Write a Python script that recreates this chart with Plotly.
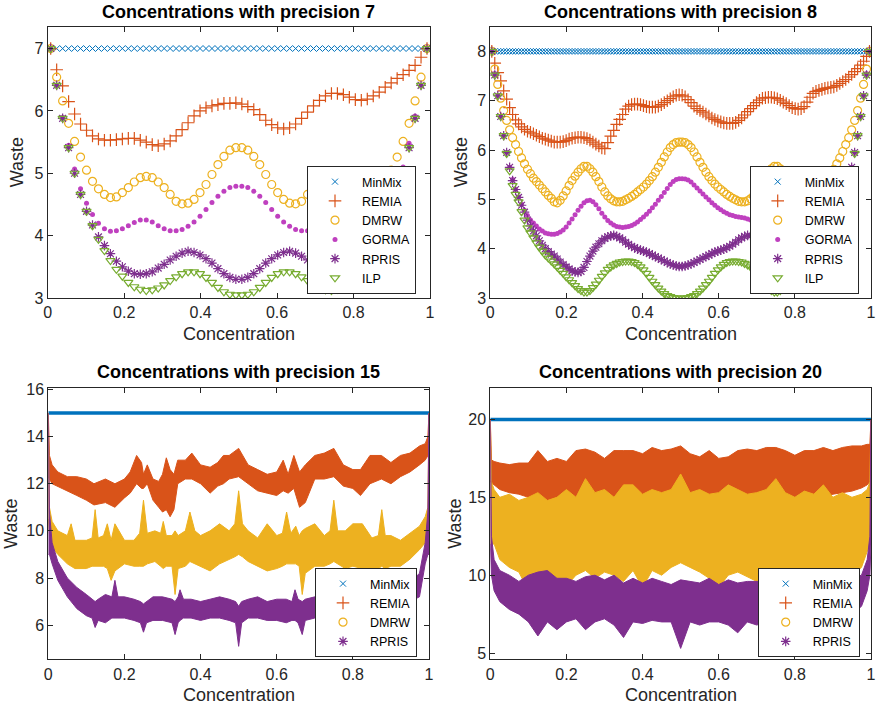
import plotly.graph_objects as go

# ---------------- data ----------------
# concentrations (odd multiples of 2^-d)
conc7 = [(2 * k + 1) / 128 for k in range(64)]
conc8 = [(2 * k + 1) / 256 for k in range(128)]

minmix7 = [7.0] * 64
remia7 = [7.00, 6.66, 6.40, 6.15, 5.95, 5.79, 5.69, 5.60, 5.55, 5.53,
          5.53, 5.54, 5.55, 5.56, 5.56, 5.53, 5.50, 5.46, 5.44, 5.47,
          5.52, 5.60, 5.70, 5.81, 5.92, 6.00, 6.05, 6.08, 6.10, 6.12,
          6.12, 6.13, 6.11, 6.07, 6.02, 5.94, 5.85, 5.78, 5.73, 5.71,
          5.73, 5.79, 5.88, 5.98, 6.08, 6.17, 6.24, 6.28, 6.28, 6.26,
          6.22, 6.18, 6.17, 6.19, 6.24, 6.30, 6.38, 6.45, 6.52, 6.58,
          6.65, 6.73, 6.86, 7.00]
dmrw7 = [7.00, 6.54, 6.16, 5.80, 5.51, 5.26, 5.05, 4.87, 4.75, 4.66,
         4.61, 4.62, 4.69, 4.77, 4.86, 4.93, 4.95, 4.93, 4.86, 4.77,
         4.66, 4.55, 4.51, 4.52, 4.58, 4.69, 4.82, 4.98, 5.14, 5.27,
         5.37, 5.41, 5.41, 5.37, 5.27, 5.14, 4.98, 4.82, 4.69, 4.58,
         4.52, 4.51, 4.55, 4.66, 4.77, 4.86, 4.93, 4.95, 4.93, 4.86,
         4.77, 4.69, 4.62, 4.61, 4.66, 4.75, 4.87, 5.05, 5.26, 5.51,
         5.80, 6.16, 6.54, 7.00]
gorma7 = [7.00, 6.41, 5.90, 5.45, 5.07, 4.75, 4.52, 4.34, 4.20, 4.11,
          4.07, 4.08, 4.11, 4.16, 4.21, 4.25, 4.25, 4.22, 4.16, 4.11,
          4.08, 4.08, 4.10, 4.15, 4.22, 4.31, 4.42, 4.53, 4.63, 4.71,
          4.77, 4.79, 4.79, 4.77, 4.71, 4.63, 4.53, 4.42, 4.31, 4.22,
          4.15, 4.10, 4.08, 4.08, 4.11, 4.16, 4.22, 4.25, 4.25, 4.21,
          4.16, 4.11, 4.08, 4.07, 4.11, 4.20, 4.34, 4.52, 4.75, 5.10,
          5.48, 5.92, 6.41, 7.00]
rpris7 = [7.00, 6.41, 5.88, 5.41, 5.00, 4.66, 4.39, 4.17, 3.98, 3.84,
          3.71, 3.59, 3.50, 3.43, 3.39, 3.38, 3.39, 3.42, 3.48, 3.54,
          3.61, 3.67, 3.72, 3.75, 3.73, 3.69, 3.63, 3.56, 3.47, 3.39,
          3.33, 3.30, 3.30, 3.33, 3.39, 3.47, 3.56, 3.63, 3.69, 3.73,
          3.75, 3.72, 3.67, 3.61, 3.54, 3.48, 3.42, 3.39, 3.38, 3.39,
          3.43, 3.50, 3.59, 3.71, 3.84, 3.98, 4.17, 4.39, 4.66, 5.00,
          5.41, 5.88, 6.41, 7.00]
ilp7 = [7.00, 6.41, 5.88, 5.41, 5.00, 4.66, 4.39, 4.16, 3.94, 3.76,
        3.60, 3.46, 3.35, 3.25, 3.18, 3.14, 3.12, 3.13, 3.16, 3.21,
        3.28, 3.34, 3.39, 3.42, 3.42, 3.39, 3.33, 3.25, 3.17, 3.10,
        3.06, 3.05, 3.05, 3.06, 3.10, 3.17, 3.25, 3.33, 3.39, 3.42,
        3.42, 3.39, 3.34, 3.28, 3.21, 3.16, 3.13, 3.12, 3.14, 3.18,
        3.25, 3.35, 3.46, 3.60, 3.76, 3.94, 4.16, 4.39, 4.66, 5.00,
        5.41, 5.88, 6.41, 7.00]

minmix8 = [8.0] * 128
remia8 = [8.00, 7.76, 7.57, 7.40, 7.20, 7.03, 6.86, 6.72, 6.61, 6.53,
          6.47, 6.42, 6.38, 6.36, 6.33, 6.30, 6.27, 6.24, 6.22, 6.20,
          6.18, 6.16, 6.16, 6.16, 6.17, 6.19, 6.22, 6.24, 6.25, 6.26,
          6.26, 6.25, 6.23, 6.20, 6.16, 6.12, 6.08, 6.04, 6.03, 6.15,
          6.28, 6.40, 6.52, 6.62, 6.72, 6.83, 6.89, 6.92, 6.93, 6.93,
          6.92, 6.90, 6.88, 6.87, 6.87, 6.87, 6.89, 6.92, 6.96, 7.00,
          7.04, 7.08, 7.11, 7.12, 7.11, 7.08, 7.02, 6.96, 6.89, 6.84,
          6.80, 6.77, 6.73, 6.69, 6.65, 6.62, 6.59, 6.57, 6.55, 6.54,
          6.54, 6.54, 6.56, 6.60, 6.65, 6.71, 6.78, 6.84, 6.90, 6.96,
          7.01, 7.05, 7.06, 7.07, 7.07, 7.06, 7.04, 7.01, 6.97, 6.94,
          6.90, 6.86, 6.84, 6.83, 6.84, 6.88, 6.97, 7.07, 7.15, 7.19,
          7.21, 7.23, 7.25, 7.26, 7.27, 7.28, 7.31, 7.35, 7.39, 7.43,
          7.48, 7.53, 7.59, 7.65, 7.72, 7.80, 7.90, 8.00]
dmrw8 = [8.00, 7.64, 7.33, 7.05, 6.80, 6.60, 6.41, 6.25, 6.11, 5.97,
         5.84, 5.72, 5.61, 5.52, 5.43, 5.36, 5.29, 5.22, 5.15, 5.08,
         5.02, 4.95, 4.93, 4.98, 5.07, 5.17, 5.28, 5.38, 5.47, 5.55,
         5.62, 5.67, 5.67, 5.62, 5.55, 5.46, 5.36, 5.25, 5.15, 5.07,
         5.01, 4.97, 4.95, 4.95, 4.96, 4.99, 5.02, 5.06, 5.10, 5.15,
         5.20, 5.25, 5.31, 5.38, 5.46, 5.55, 5.65, 5.75, 5.86, 5.96,
         6.05, 6.11, 6.15, 6.16,
         6.16, 6.15, 6.11, 6.05, 5.96, 5.86, 5.75, 5.65, 5.55, 5.46,
         5.38, 5.31, 5.25, 5.20, 5.15, 5.10, 5.06, 5.02, 4.99, 4.96,
         4.95, 4.95, 4.97, 5.01, 5.07, 5.15, 5.25, 5.36, 5.46, 5.55,
         5.62, 5.67, 5.67, 5.62, 5.55, 5.47, 5.38, 5.28, 5.17, 5.07,
         4.98, 4.93, 4.95, 5.02, 5.08, 5.15, 5.22, 5.29, 5.36, 5.43,
         5.52, 5.61, 5.72, 5.84, 5.97, 6.11, 6.25, 6.41, 6.60, 6.80,
         7.05, 7.33, 7.64, 8.00]
gorma8 = [8.00, 7.55, 7.10, 6.68, 6.28, 5.95, 5.65, 5.40, 5.20, 5.05,
          4.90, 4.78, 4.67, 4.58, 4.52, 4.46, 4.40, 4.36, 4.32, 4.30,
          4.29, 4.29, 4.31, 4.34, 4.38, 4.44, 4.52, 4.60, 4.69, 4.78,
          4.86, 4.93, 4.97, 4.98, 4.95, 4.89, 4.81, 4.72, 4.64, 4.57,
          4.52, 4.48, 4.45, 4.44, 4.43, 4.44, 4.45, 4.47, 4.50, 4.54,
          4.59, 4.64, 4.70, 4.76, 4.83, 4.90, 4.98, 5.06, 5.14, 5.22,
          5.30, 5.36, 5.40, 5.42,
          5.42, 5.41, 5.39, 5.35, 5.29, 5.23, 5.17, 5.11, 5.05, 4.99,
          4.93, 4.88, 4.83, 4.79, 4.75, 4.72, 4.69, 4.67, 4.65, 4.64,
          4.63, 4.62, 4.60, 4.58, 4.57, 4.64, 4.72, 4.81, 4.89, 4.95,
          4.98, 4.97, 4.93, 4.86, 4.78, 4.69, 4.60, 4.52, 4.44, 4.38,
          4.34, 4.31, 4.29, 4.29, 4.30, 4.32, 4.36, 4.40, 4.46, 4.52,
          4.58, 4.67, 4.78, 4.90, 5.05, 5.20, 5.40, 5.65, 5.95, 6.28,
          6.68, 7.10, 7.55, 8.00]
rpris8 = [8.00, 7.52, 7.10, 6.68, 6.29, 5.95, 5.65, 5.38, 5.20, 5.04,
          4.88, 4.74, 4.58, 4.46, 4.36, 4.26, 4.16, 4.07, 4.00, 3.94,
          3.89, 3.85, 3.79, 3.73, 3.68, 3.63, 3.59, 3.55, 3.53, 3.52,
          3.54, 3.62, 3.74, 3.85, 3.95, 4.03, 4.10, 4.16, 4.21, 4.24,
          4.26, 4.27, 4.25, 4.22, 4.18, 4.13, 4.09, 4.05, 4.02, 3.99,
          3.97, 3.95, 3.93, 3.90, 3.87, 3.84, 3.81, 3.78, 3.75, 3.72,
          3.69, 3.67, 3.65, 3.64,
          3.64, 3.65, 3.67, 3.69, 3.72, 3.75, 3.78, 3.81, 3.84, 3.87,
          3.90, 3.93, 3.95, 3.97, 3.99, 4.02, 4.05, 4.09, 4.13, 4.18,
          4.22, 4.25, 4.27, 4.26, 4.24, 4.21, 4.16, 4.10, 4.03, 3.95,
          3.85, 3.74, 3.62, 3.54, 3.52, 3.53, 3.55, 3.59, 3.63, 3.68,
          3.73, 3.79, 3.85, 3.89, 3.94, 4.00, 4.07, 4.16, 4.26, 4.36,
          4.46, 4.58, 4.74, 4.88, 5.04, 5.20, 5.38, 5.65, 5.95, 6.29,
          6.68, 7.10, 7.52, 8.00]
ilp8 = [8.00, 7.52, 7.10, 6.68, 6.29, 5.93, 5.58, 5.28, 5.10, 4.95,
        4.75, 4.58, 4.42, 4.32, 4.22, 4.12, 4.03, 3.95, 3.87, 3.81,
        3.75, 3.69, 3.63, 3.56, 3.50, 3.43, 3.37, 3.31, 3.25, 3.19,
        3.15, 3.12, 3.12, 3.15, 3.21, 3.28, 3.36, 3.44, 3.51, 3.58,
        3.63, 3.67, 3.70, 3.73, 3.74, 3.75, 3.75, 3.74, 3.72, 3.68,
        3.63, 3.57, 3.50, 3.42, 3.34, 3.27, 3.20, 3.14, 3.09, 3.05,
        3.03, 3.01, 3.00, 3.00,
        3.00, 3.00, 3.01, 3.03, 3.05, 3.09, 3.14, 3.20, 3.27, 3.34,
        3.42, 3.50, 3.57, 3.63, 3.68, 3.72, 3.74, 3.75, 3.75, 3.74,
        3.73, 3.70, 3.67, 3.63, 3.58, 3.51, 3.44, 3.36, 3.28, 3.21,
        3.15, 3.12, 3.12, 3.15, 3.19, 3.25, 3.31, 3.37, 3.43, 3.50,
        3.56, 3.63, 3.69, 3.75, 3.81, 3.87, 3.95, 4.03, 4.12, 4.22,
        4.32, 4.42, 4.58, 4.75, 4.95, 5.10, 5.28, 5.58, 5.93, 6.29,
        6.68, 7.10, 7.52, 8.00]

# precision 15: dense data read as upper / lower envelopes
minmix15_x = [0.0, 1.0]
minmix15 = [15, 15]
remia15_x = [0, 0.003, 0.01, 0.025, 0.05, 0.075, 0.1, 0.12, 0.15, 0.175,
             0.2, 0.215, 0.232, 0.245, 0.25, 0.26, 0.275, 0.29, 0.3, 0.31,
             0.32, 0.33, 0.34, 0.36, 0.377, 0.4, 0.425, 0.445, 0.46, 0.475,
             0.5, 0.525, 0.55, 0.575, 0.6, 0.617, 0.63, 0.645, 0.66, 0.675,
             0.7, 0.725, 0.75, 0.775, 0.8, 0.82, 0.845, 0.875, 0.9, 0.925,
             0.95, 0.975, 0.99, 0.997, 1.0]
remia15_hi = [15, 13.2, 12.8, 12.5, 12.3, 12.3, 12.2, 12.0, 12.2, 12.0,
              12.2, 12.5, 13.2, 12.9, 12.4, 12.8, 12.2, 12.1, 12.4, 13.1,
              12.6, 12.4, 13.0, 13.0, 13.3, 12.8, 12.7, 12.9, 13.2, 13.2,
              13.5, 12.8, 12.6, 12.4, 12.5, 13.0, 12.4, 13.2, 12.5, 12.8,
              13.2, 13.3, 13.5, 12.8, 12.6, 12.6, 13.2, 13.2, 12.9, 13.2,
              13.3, 13.6, 13.7, 14.0, 15]
remia15_lo = [12.3, 12.2, 12.0, 11.9, 11.7, 11.5, 11.3, 11.1, 11.2, 11.0,
              11.4, 11.6, 12.0, 11.8, 11.8, 12.0, 11.3, 11.0, 10.8, 10.9,
              10.6, 10.9, 12.0, 12.2, 12.2, 12.0, 11.6, 11.9, 12.0, 12.2,
              12.3, 12.0, 11.7, 11.6, 11.5, 11.7, 11.6, 11.8, 11.0, 11.2,
              12.2, 12.2, 12.3, 11.9, 11.8, 11.5, 12.0, 12.2, 12.0, 12.3,
              12.5, 12.8, 13.0, 13.2, 13.0]
dmrw15_x = [0, 0.003, 0.01, 0.025, 0.05, 0.06, 0.07, 0.1, 0.115, 0.123,
            0.131, 0.145, 0.155, 0.165, 0.175, 0.2, 0.225, 0.24, 0.25, 0.26,
            0.28, 0.295, 0.302, 0.31, 0.325, 0.333, 0.341, 0.36, 0.372, 0.385,
            0.4, 0.425, 0.45, 0.475, 0.49, 0.5, 0.51, 0.525, 0.55, 0.575,
            0.6, 0.615, 0.626, 0.637, 0.65, 0.659, 0.667, 0.675, 0.7, 0.725,
            0.74, 0.75, 0.76, 0.78, 0.8, 0.825, 0.85, 0.867, 0.876, 0.885,
            0.9, 0.925, 0.95, 0.975, 0.99, 0.997, 1.0]
dmrw15_hi = [15, 11.0, 10.4, 10.0, 9.8, 10.3, 9.6, 9.6, 9.7, 10.9,
             9.7, 9.8, 10.3, 9.6, 10.3, 9.6, 9.6, 9.9, 11.3, 9.9,
             10.0, 9.9, 10.4, 9.8, 9.8, 10.0, 9.8, 10.0, 10.8, 10.0,
             9.8, 10.0, 10.3, 10.0, 10.3, 11.7, 10.3, 10.0, 9.7, 10.3,
             9.8, 9.9, 10.8, 9.9, 10.2, 9.8, 10.0, 10.1, 10.3, 9.8,
             10.0, 11.3, 10.0, 10.0, 10.3, 10.3, 9.7, 9.8, 10.9, 9.8,
             9.8, 9.6, 9.9, 10.2, 10.6, 11.0, 15]
dmrw15_lo = [10.5, 9.8, 9.3, 9.0, 8.6, 8.5, 8.4, 8.4, 8.5, 8.5,
             8.5, 8.5, 8.4, 7.9, 8.3, 8.6, 8.5, 8.5, 8.5, 8.6,
             8.7, 8.5, 8.4, 8.5, 8.5, 7.3, 8.4, 8.5, 8.7, 8.6,
             8.5, 8.3, 8.6, 8.8, 8.9, 9.0, 8.9, 8.7, 8.5, 8.3,
             8.4, 8.5, 8.6, 8.6, 8.6, 8.5, 7.3, 8.2, 8.5, 8.5,
             8.6, 8.7, 8.6, 8.4, 8.5, 8.4, 8.3, 8.4, 8.5, 8.4,
             8.5, 8.5, 8.8, 9.2, 9.5, 10.0, 10.5]
rpris15_x = [0, 0.003, 0.01, 0.025, 0.05, 0.075, 0.1, 0.115, 0.123, 0.131,
             0.15, 0.167, 0.175, 0.183, 0.2, 0.225, 0.242, 0.25, 0.258, 0.275,
             0.3, 0.325, 0.333, 0.341, 0.346, 0.355, 0.375, 0.4, 0.425, 0.45,
             0.475, 0.492, 0.5, 0.508, 0.525, 0.55, 0.575, 0.6, 0.625, 0.64,
             0.648, 0.656, 0.667, 0.675, 0.7, 0.75, 0.8, 0.85, 0.9, 0.95,
             0.975, 0.99, 0.997, 1.0]
rpris15_hi = [15, 10.8, 9.5, 8.7, 8.0, 7.6, 7.3, 7.1, 7.0, 7.1,
              7.3, 7.2, 7.9, 7.2, 7.2, 7.1, 7.0, 6.9, 7.0, 7.2,
              7.2, 7.1, 7.0, 7.2, 7.5, 7.1, 7.1, 7.0, 7.1, 7.2,
              7.1, 7.0, 6.8, 7.0, 7.1, 7.2, 7.0, 7.1, 7.1, 7.0,
              7.5, 7.1, 7.0, 7.1, 7.2, 7.2, 7.2, 7.3, 7.5, 7.8,
              8.2, 9.5, 10.8, 15]
rpris15_lo = [9.0, 9.0, 8.6, 7.9, 7.2, 6.7, 6.4, 6.3, 5.9, 6.2,
              6.1, 6.3, 6.3, 6.3, 6.3, 6.2, 6.1, 5.7, 6.1, 6.2,
              6.2, 6.1, 5.6, 6.1, 6.2, 6.3, 6.3, 6.2, 6.3, 6.3,
              6.2, 6.1, 5.1, 6.1, 6.3, 6.3, 6.2, 6.2, 6.1, 6.2,
              6.2, 6.1, 5.6, 6.2, 6.3, 6.3, 6.3, 6.4, 6.6, 7.0,
              7.2, 8.6, 9.0, 9.0]

# precision 20: dense data read as upper / lower envelopes
minmix20_x = [0.0, 1.0]
minmix20 = [20, 20]
band20_x = [0, 0.003, 0.01, 0.025, 0.05, 0.075, 0.1, 0.125, 0.15, 0.175,
            0.2, 0.225, 0.25, 0.275, 0.3, 0.325, 0.35, 0.375, 0.4, 0.425,
            0.45, 0.475, 0.5, 0.525, 0.55, 0.575, 0.6, 0.625, 0.65, 0.675,
            0.7, 0.725, 0.75, 0.775, 0.8, 0.825, 0.85, 0.875, 0.9, 0.925,
            0.95, 0.975, 0.99, 0.997, 1.0]
remia20_hi = [20, 17.4, 17.3, 17.2, 17.1, 17.2, 17.2, 18.0, 17.3, 17.5,
              17.3, 18.0, 18.1, 17.9, 17.5, 18.0, 18.0, 18.0, 17.8, 18.2,
              18.0, 18.1, 18.3, 17.8, 17.6, 18.0, 17.5, 17.6, 18.0, 18.1,
              18.0, 18.2, 18.2, 18.0, 17.7, 18.0, 18.0, 18.2, 18.0, 18.2,
              18.3, 18.3, 18.4, 18.4, 20]
remia20_lo = [16.0, 16.0, 15.8, 15.5, 15.3, 15.2, 15.0, 15.0, 14.8, 15.0,
              15.2, 14.8, 14.6, 14.8, 14.5, 14.2, 14.8, 15.0, 15.0, 15.0,
              15.0, 14.9, 14.8, 15.0, 15.0, 14.8, 15.0, 14.8, 14.5, 14.8,
              15.0, 15.0, 14.8, 15.0, 15.0, 15.0, 14.8, 15.0, 15.2, 15.3,
              15.4, 15.6, 15.8, 16.0, 16.0]
dmrw20_hi = [20, 16.0, 15.5, 15.0, 15.2, 14.8, 15.0, 15.3, 14.8, 15.0,
             15.5, 15.0, 16.2, 15.3, 15.5, 15.0, 15.8, 15.8, 15.2, 15.5,
             15.3, 15.5, 16.5, 15.3, 15.5, 15.2, 15.3, 15.8, 15.5, 15.2,
             15.3, 15.5, 16.2, 15.3, 15.0, 15.4, 15.2, 15.8, 15.0, 15.3,
             15.0, 15.2, 15.5, 16.0, 20]
dmrw20_lo = [12.0, 12.0, 12.0, 11.0, 10.5, 10.2, 9.0, 10.2, 10.0, 9.8,
             9.3, 10.0, 10.3, 9.8, 10.2, 10.0, 9.6, 10.3, 9.2, 10.3,
             10.0, 10.5, 10.8, 10.5, 10.2, 9.8, 9.2, 10.0, 10.2, 9.9,
             9.6, 10.0, 10.0, 10.0, 10.0, 10.0, 10.0, 10.0, 9.5, 10.0,
             10.0, 10.5, 11.5, 12.0, 12.0]
rpris20_hi = [20, 12.5, 11.0, 10.3, 10.0, 9.6, 10.0, 10.2, 10.3, 9.8,
              9.8, 9.6, 9.9, 10.0, 9.7, 10.0, 9.5, 9.8, 9.5, 9.8,
              9.6, 9.4, 9.7, 9.6, 9.5, 9.8, 9.4, 9.7, 9.5, 9.6,
              9.6, 9.6, 9.6, 9.6, 9.6, 9.6, 9.6, 9.6, 9.6, 9.7,
              9.8, 10.0, 11.0, 12.5, 20]
rpris20_lo = [12.0, 10.0, 9.0, 8.3, 7.8, 7.5, 7.0, 6.1, 7.0, 6.5,
              7.0, 7.2, 6.5, 7.0, 7.2, 6.8, 6.0, 7.0, 6.9, 7.1,
              7.0, 7.0, 5.3, 7.0, 6.8, 7.0, 7.0, 6.8, 6.3, 7.0,
              6.8, 7.0, 7.0, 7.0, 7.0, 7.0, 7.0, 7.0, 7.0, 7.2,
              7.5, 8.0, 9.0, 10.0, 12.0]

titles = ["Concentrations with precision 7", "Concentrations with precision 8",
          "Concentrations with precision 15", "Concentrations with precision 20"]
x_label = "Concentration"
y_label = "Waste"

# ---------------- styling ----------------
FONT = "Liberation Sans, Arial, sans-serif"
AX = "#262626"
C_MINMIX = "#0072BD"
C_REMIA = "#D95319"
C_DMRW = "#EDB120"
C_GORMA = "#BF40BF"
C_RPRIS = "#7E2F8E"
C_ILP = "#77AC30"

STY = {
    "MinMix": dict(symbol="x-thin", size=6, color=C_MINMIX, line=dict(width=1, color=C_MINMIX)),
    "REMIA": dict(symbol="cross-thin", size=9, color=C_REMIA, line=dict(width=1.2, color=C_REMIA)),
    "DMRW": dict(symbol="circle-open", size=8, color=C_DMRW, line=dict(width=1.2, color=C_DMRW)),
    "GORMA": dict(symbol="circle", size=5, color=C_GORMA, line=dict(width=0)),
    "RPRIS": dict(symbol="asterisk", size=8, color=C_RPRIS, line=dict(width=1.2, color=C_RPRIS)),
    "ILP": dict(symbol="triangle-down-open", size=8, color=C_ILP, line=dict(width=1.2, color=C_ILP)),
}

fig = go.Figure()


def ax_ids(n):
    return ("x" if n == 1 else "x%d" % n), ("y" if n == 1 else "y%d" % n), \
           ("legend" if n == 1 else "legend%d" % n)


def markers(x, y, name, n):
    xa, ya, lg = ax_ids(n)
    fig.add_trace(go.Scatter(x=x, y=y, mode="markers", name=name, marker=STY[name],
                             xaxis=xa, yaxis=ya, legend=lg))


def band(xs, hi, lo, color, n):
    xa, ya, lg = ax_ids(n)
    fig.add_trace(go.Scatter(x=list(xs) + list(xs)[::-1], y=list(hi) + list(lo)[::-1],
                             mode="lines", fill="toself", fillcolor=color,
                             line=dict(color=color, width=1), showlegend=False,
                             hoverinfo="skip", xaxis=xa, yaxis=ya))


def legend_only(name, n):
    xa, ya, lg = ax_ids(n)
    fig.add_trace(go.Scatter(x=[None], y=[None], mode="markers", name=name, marker=STY[name],
                             xaxis=xa, yaxis=ya, legend=lg))


# panel 1
markers(conc7, minmix7, "MinMix", 1)
markers(conc7, remia7, "REMIA", 1)
markers(conc7, dmrw7, "DMRW", 1)
markers(conc7, gorma7, "GORMA", 1)
markers(conc7, rpris7, "RPRIS", 1)
markers(conc7, ilp7, "ILP", 1)
# panel 2
markers(conc8, minmix8, "MinMix", 2)
markers(conc8, remia8, "REMIA", 2)
markers(conc8, dmrw8, "DMRW", 2)
markers(conc8, gorma8, "GORMA", 2)
markers(conc8, rpris8, "RPRIS", 2)
markers(conc8, ilp8, "ILP", 2)
# panel 3
fig.add_trace(go.Scatter(x=minmix15_x, y=minmix15, mode="lines", line=dict(color=C_MINMIX, width=3.5),
                         showlegend=False, xaxis="x3", yaxis="y3"))
band(remia15_x, remia15_hi, remia15_lo, C_REMIA, 3)
band(dmrw15_x, dmrw15_hi, dmrw15_lo, C_DMRW, 3)
band(rpris15_x, rpris15_hi, rpris15_lo, C_RPRIS, 3)
for nm in ["MinMix", "REMIA", "DMRW", "RPRIS"]:
    legend_only(nm, 3)
# panel 4
fig.add_trace(go.Scatter(x=minmix20_x, y=minmix20, mode="lines", line=dict(color=C_MINMIX, width=3.5),
                         showlegend=False, xaxis="x4", yaxis="y4"))
band(band20_x, remia20_hi, remia20_lo, C_REMIA, 4)
band(band20_x, dmrw20_hi, dmrw20_lo, C_DMRW, 4)
band(band20_x, rpris20_hi, rpris20_lo, C_RPRIS, 4)
for nm in ["MinMix", "REMIA", "DMRW", "RPRIS"]:
    legend_only(nm, 4)

W, H = 877, 709
xpx = [(47.7, 430), (490.3, 871), (48.3, 429), (490.3, 871)]
ypx = [(26.7, 298), (26.7, 298), (388.3, 659.3), (388.3, 659.3)]
xdoms = [[a / W, b / W] for a, b in xpx]
ydoms = [[1 - b / H, 1 - a / H] for a, b in ypx]
yranges = [[3, 7.35], [3, 8.5], [4.55, 16.05], [4.6, 22]]
ydticks = [1, 1, 2, 5]
y0ticks = [3, 3, 6, 5]
ylab_x = [17, 461, 11, 455]

lay = dict(width=W, height=H, margin=dict(l=0, r=0, t=0, b=0, autoexpand=False),
           paper_bgcolor="white", plot_bgcolor="white",
           font=dict(family=FONT, color=AX), showlegend=True)

axcommon = dict(showline=True, linecolor=AX, linewidth=1, mirror="ticks", ticks="inside",
                ticklen=5, tickcolor=AX, tickwidth=1, showgrid=False, zeroline=False,
                automargin=False, tickfont=dict(family=FONT, size=16, color=AX))
for i in range(4):
    n = i + 1
    xa, ya, lg = ax_ids(n)
    xk = "xaxis" if n == 1 else "xaxis%d" % n
    yk = "yaxis" if n == 1 else "yaxis%d" % n
    lay[xk] = dict(axcommon, domain=xdoms[i], range=[0, 1], tick0=0, dtick=0.2, anchor=ya)
    lay[yk] = dict(axcommon, domain=ydoms[i], range=yranges[i], tick0=y0ticks[i], dtick=ydticks[i],
                   anchor=xa)

legpos = [(307, 166), (749.7, 166), (315, 568), (757.7, 568)]
for i, (lx, ly) in enumerate(legpos):
    key = "legend" if i == 0 else "legend%d" % (i + 1)
    lay[key] = dict(x=lx / W, y=1 - ly / H, xanchor="left", yanchor="top", bgcolor="white",
                    bordercolor=AX, borderwidth=1, font=dict(family=FONT, size=12.5, color="black"),
                    tracegroupgap=0, itemwidth=44)

anns = []
for i in range(4):
    cx = (xpx[i][0] + xpx[i][1]) / 2 / W
    cy_title = 12 if i < 2 else 372
    anns.append(dict(text="<b>%s</b>" % titles[i], x=cx, y=1 - cy_title / H, xref="paper", yref="paper",
                     xanchor="center", yanchor="middle", showarrow=False,
                     font=dict(family=FONT, size=18, color="black")))
    anns.append(dict(text=x_label, x=cx, y=1 - (ypx[i][1] + 36) / H, xref="paper", yref="paper",
                     xanchor="center", yanchor="middle", showarrow=False,
                     font=dict(family=FONT, size=18, color=AX)))
    anns.append(dict(text=y_label, x=ylab_x[i] / W, y=1 - (ypx[i][0] + ypx[i][1]) / 2 / H,
                     xref="paper", yref="paper", textangle=-90,
                     xanchor="center", yanchor="middle", showarrow=False,
                     font=dict(family=FONT, size=18, color=AX)))
lay["annotations"] = anns

fig.update_layout(**lay)
fig.write_html("out.html", config={"displayModeBar": False},
               post_script="document.body.style.margin='0px';document.body.style.overflow='hidden';")
